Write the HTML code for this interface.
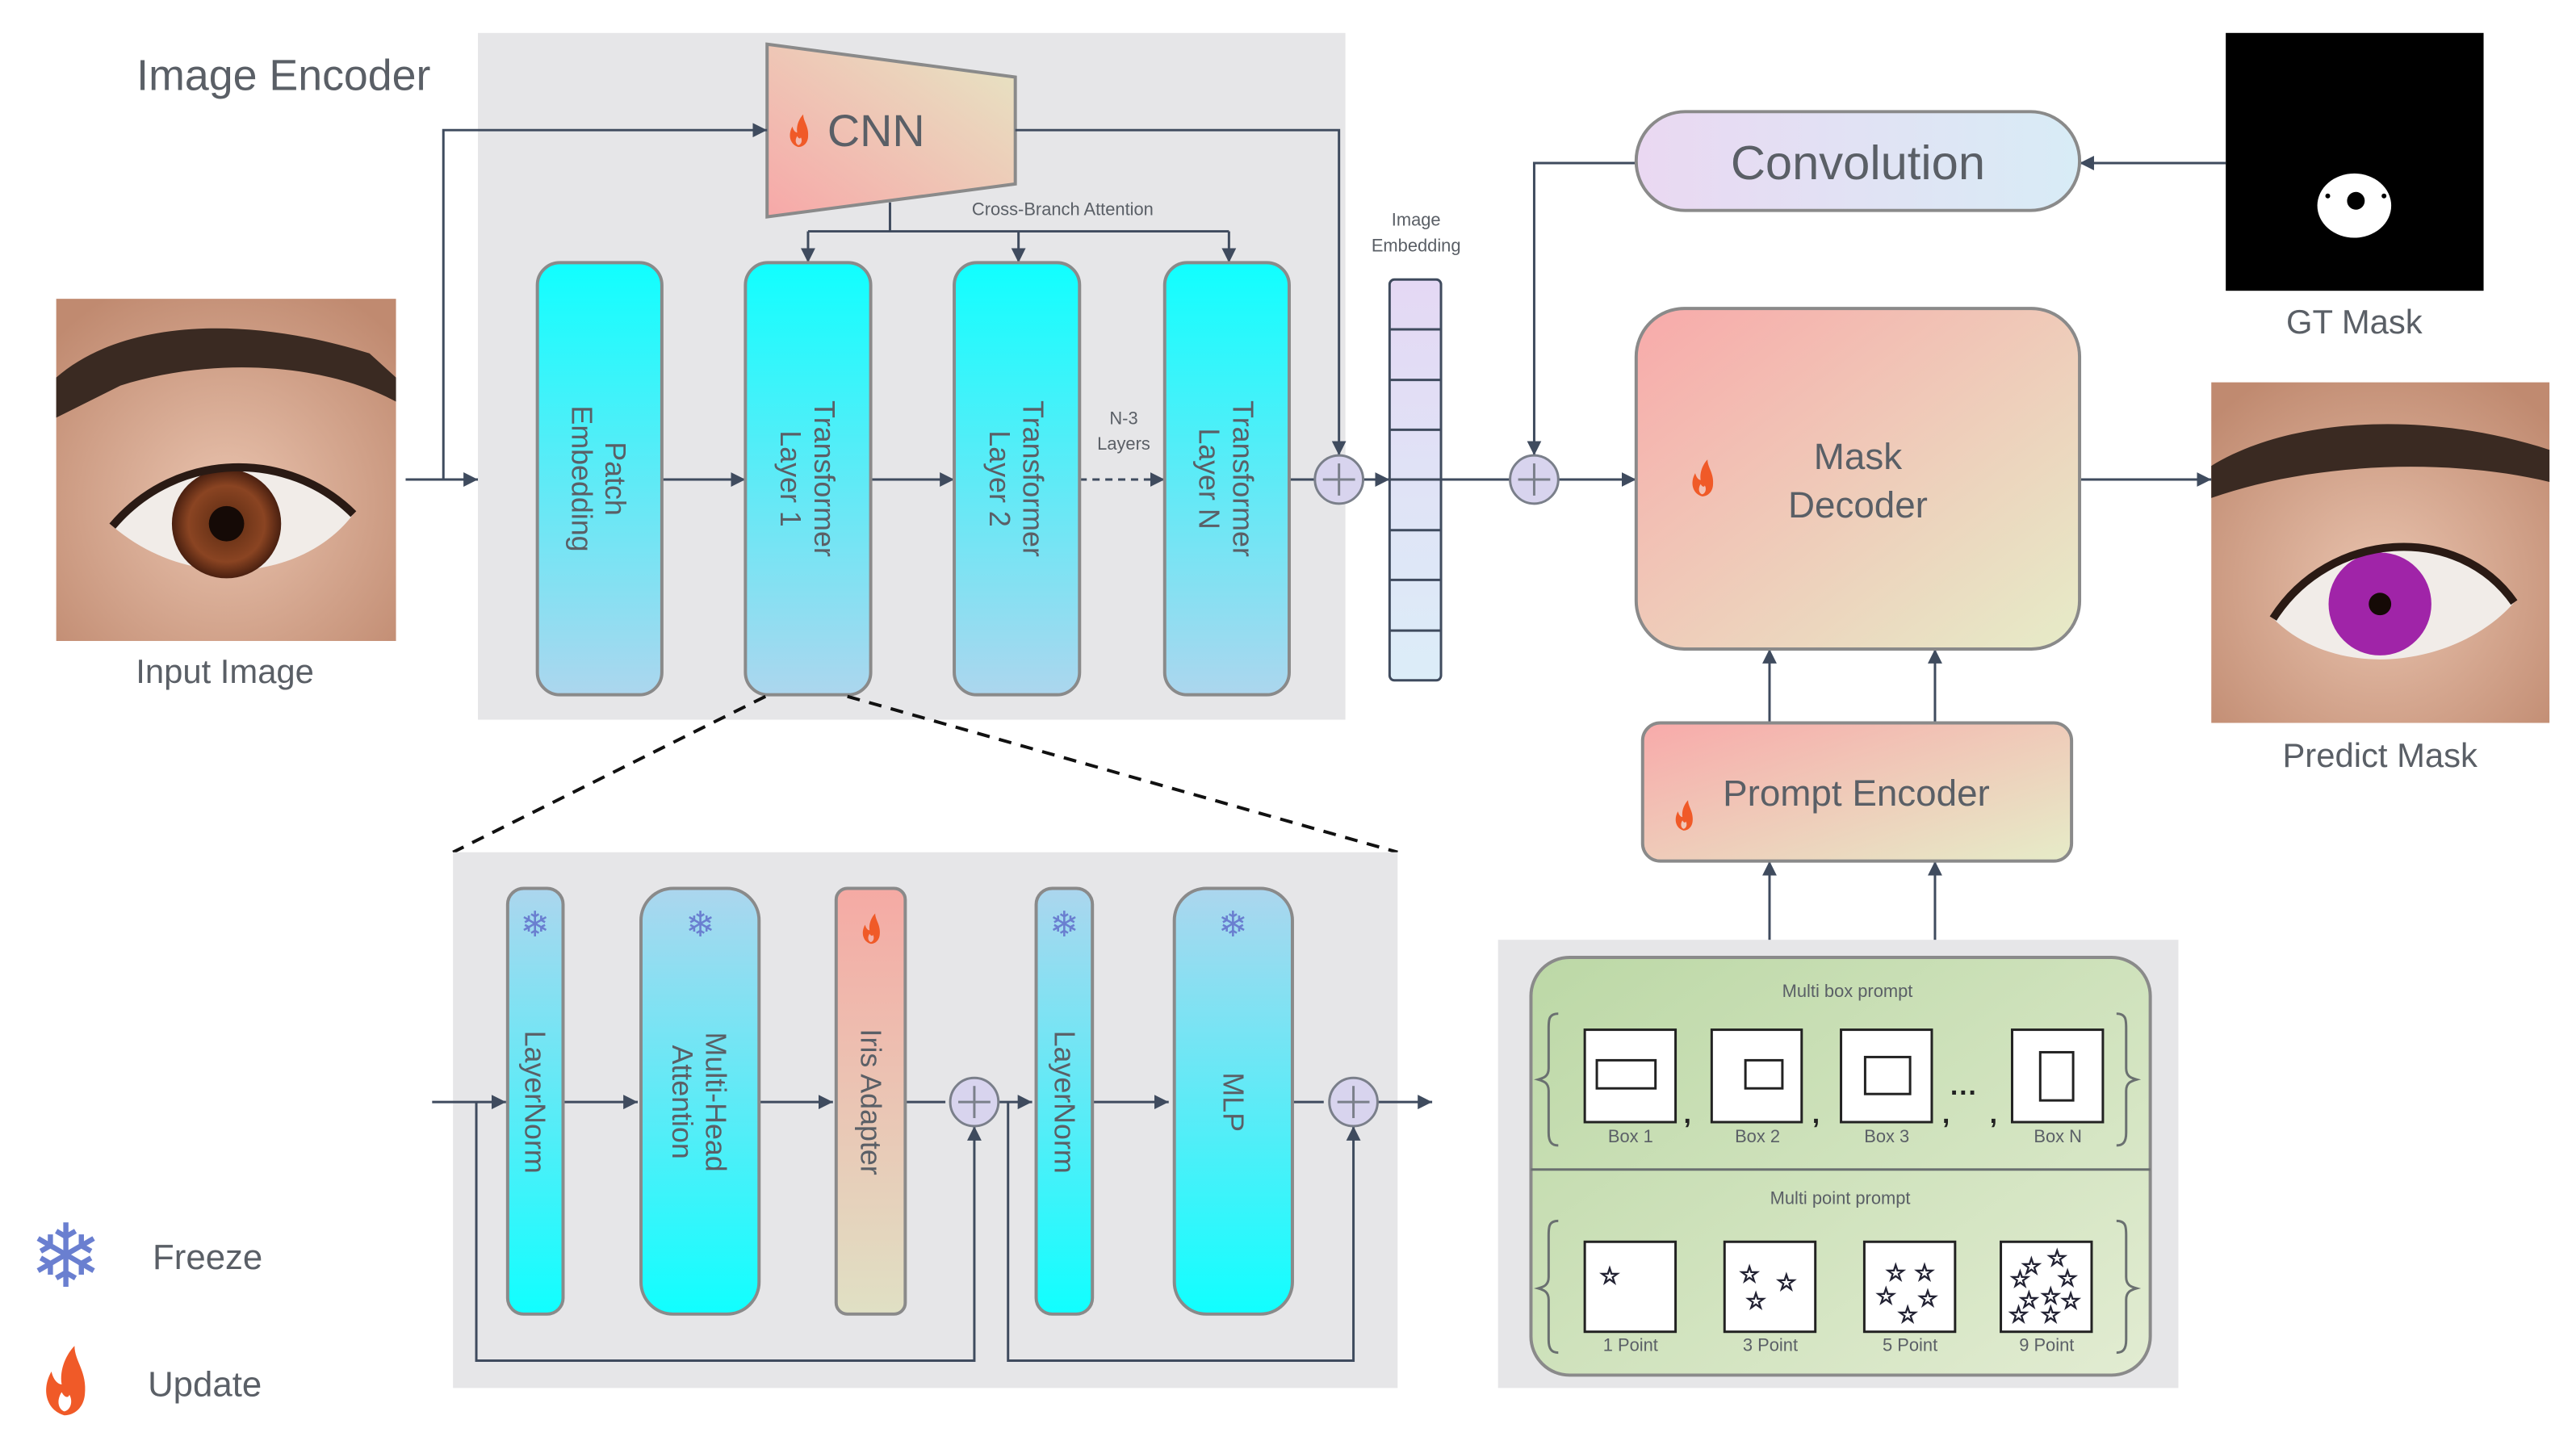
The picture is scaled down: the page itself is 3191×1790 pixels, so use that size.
<!DOCTYPE html>
<html><head><meta charset="utf-8"><style>
html,body{margin:0;padding:0;background:#fff}
svg{display:block}
text{font-family:"Liberation Sans","DejaVu Sans",sans-serif;fill:#5a5f66}
</style></head><body>
<svg width="3191" height="1790" viewBox="0 0 3191 1790" xmlns="http://www.w3.org/2000/svg">
<defs>
<marker id="a" viewBox="0 0 10 10" refX="10" refY="5" markerWidth="18" markerHeight="18" markerUnits="userSpaceOnUse" orient="auto"><path d="M0,0 L10,5 L0,10 z" fill="#3f4b5e"/></marker>
<linearGradient id="cyanDown" x1="0" y1="0" x2="0" y2="1"><stop offset="0" stop-color="#10ffff"/><stop offset="1" stop-color="#acd6ee"/></linearGradient>
<linearGradient id="cyanUp" x1="0" y1="0" x2="0" y2="1"><stop offset="0" stop-color="#acd6ee"/><stop offset="1" stop-color="#10ffff"/></linearGradient>
<linearGradient id="iris" x1="0" y1="0" x2="0" y2="1"><stop offset="0" stop-color="#f5aaa4"/><stop offset="1" stop-color="#e0e0c4"/></linearGradient>
<linearGradient id="warm" x1="0" y1="0" x2="1" y2="1"><stop offset="0" stop-color="#f8aaaa"/><stop offset="1" stop-color="#e6ecc8"/></linearGradient>
<linearGradient id="cnn" x1="0" y1="1" x2="1" y2="0"><stop offset="0" stop-color="#f7a8a8"/><stop offset="1" stop-color="#e6e6c4"/></linearGradient>
<linearGradient id="conv" x1="0" y1="0" x2="1" y2="0"><stop offset="0" stop-color="#ead8f2"/><stop offset="1" stop-color="#d8ecf6"/></linearGradient>
<linearGradient id="emb" x1="0" y1="0" x2="0" y2="1"><stop offset="0" stop-color="#e4d8f4"/><stop offset="1" stop-color="#dcedf8"/></linearGradient>
<linearGradient id="green" x1="0" y1="0" x2="1" y2="1"><stop offset="0" stop-color="#bcd8a6"/><stop offset="1" stop-color="#e2ecd2"/></linearGradient>
<radialGradient id="skin" cx="0.5" cy="0.6" r="0.7"><stop offset="0" stop-color="#e9c3ae"/><stop offset="1" stop-color="#c08a70"/></radialGradient>
<radialGradient id="brown" cx="0.5" cy="0.5" r="0.5"><stop offset="0" stop-color="#5a2a12"/><stop offset="0.7" stop-color="#8a4422"/><stop offset="1" stop-color="#4a2010"/></radialGradient>
<path id="flame" d="M0,0 C-14,-4 -18,-20 -10,-34 C-8,-26 -4,-24 -2,-24 C-4,-36 2,-48 8,-54 C8,-42 18,-34 16,-16 C15,-6 8,0 0,0 Z M0,-3 C-5,-5 -6,-12 -2,-18 C0,-14 3,-13 4,-16 C7,-11 5,-4 0,-3 Z" fill="#f05a28" fill-rule="evenodd"/>
</defs>
<g transform="scale(0.995)">
<rect x="595" y="41" width="1080" height="855" fill="#e6e6e8"/>
<text x="170" y="112" font-size="54">Image Encoder</text>

<g>
<rect x="70" y="372" width="423" height="426" fill="url(#skin)"/>
<path d="M70,470 C150,400 300,390 460,440 L493,470 L493,500 C400,450 260,445 150,480 L70,520 Z" fill="#3a2a22"/>
<path d="M140,655 C220,560 360,560 440,640 C380,720 240,740 140,655 Z" fill="#f1ece8"/>
<circle cx="282" cy="652" r="68" fill="url(#brown)"/>
<circle cx="282" cy="652" r="22" fill="#150a06"/>
<path d="M140,655 C220,560 360,560 440,640" fill="none" stroke="#2a1a14" stroke-width="10"/>
</g>
<text x="280" y="850" font-size="42" text-anchor="middle">Input Image</text>

<polygon points="955,55 1264,96 1264,229 955,270" fill="url(#cnn)" stroke="#8a8a8a" stroke-width="4"/>
<use href="#flame" transform="translate(994,183) scale(0.75)"/>
<text x="1030" y="182" font-size="56">CNN</text>

<g stroke="#3f4b5e" stroke-width="3" fill="none">
<line x1="505" y1="597" x2="595" y2="597" marker-end="url(#a)"/>
<polyline points="552,597 552,162 955,162" marker-end="url(#a)"/>
<polyline points="1264,162 1667,162 1667,567" marker-end="url(#a)"/>
<line x1="1108" y1="252" x2="1108" y2="288"/>
<line x1="1006" y1="288" x2="1530" y2="288"/>
<line x1="1006" y1="288" x2="1006" y2="327" marker-end="url(#a)"/>
<line x1="1268" y1="288" x2="1268" y2="327" marker-end="url(#a)"/>
<line x1="1530" y1="288" x2="1530" y2="327" marker-end="url(#a)"/>
<line x1="824" y1="597" x2="928" y2="597" marker-end="url(#a)"/>
<line x1="1084" y1="597" x2="1188" y2="597" marker-end="url(#a)"/>
<line x1="1344" y1="597" x2="1450" y2="597" stroke-dasharray="9,7" marker-end="url(#a)"/>
<line x1="1605" y1="597" x2="1637" y2="597"/>
<line x1="1697" y1="597" x2="1730" y2="597" marker-end="url(#a)"/>
</g>
<text x="1323" y="268" font-size="22" text-anchor="middle">Cross-Branch Attention</text>
<text x="1399" y="528" font-size="22" text-anchor="middle">N-3</text>
<text x="1399" y="560" font-size="22" text-anchor="middle">Layers</text>

<g stroke="#8a8a8a" stroke-width="4" fill="url(#cyanDown)">
<rect x="669" y="327" width="155" height="538" rx="28"/>
<rect x="928" y="327" width="156" height="538" rx="28"/>
<rect x="1188" y="327" width="156" height="538" rx="28"/>
<rect x="1450" y="327" width="155" height="538" rx="28"/>
</g>
<g font-size="36">
<g transform="translate(746,596) rotate(90)"><text x="0" y="-8" text-anchor="middle">Patch</text><text x="0" y="34" text-anchor="middle">Embedding</text></g>
<g transform="translate(1006,596) rotate(90)"><text x="0" y="-8" text-anchor="middle">Transformer</text><text x="0" y="34" text-anchor="middle">Layer 1</text></g>
<g transform="translate(1266,596) rotate(90)"><text x="0" y="-8" text-anchor="middle">Transformer</text><text x="0" y="34" text-anchor="middle">Layer 2</text></g>
<g transform="translate(1527,596) rotate(90)"><text x="0" y="-8" text-anchor="middle">Transformer</text><text x="0" y="34" text-anchor="middle">Layer N</text></g>
</g>

<g stroke="#7a7f8a" stroke-width="3"><circle cx="1667" cy="597" r="30" fill="#d8d4ee"/><line x1="1647" y1="597" x2="1687" y2="597"/><line x1="1667" y1="577" x2="1667" y2="617"/></g>

<text x="1763" y="281" font-size="22" text-anchor="middle">Image</text>
<text x="1763" y="313" font-size="22" text-anchor="middle">Embedding</text>
<rect x="1730" y="348" width="64" height="499" rx="6" fill="url(#emb)" stroke="#3f4b5e" stroke-width="3"/>
<g stroke="#3f4b5e" stroke-width="3">
<line x1="1730" y1="410" x2="1794" y2="410"/><line x1="1730" y1="473" x2="1794" y2="473"/><line x1="1730" y1="535" x2="1794" y2="535"/><line x1="1730" y1="597" x2="1794" y2="597"/><line x1="1730" y1="660" x2="1794" y2="660"/><line x1="1730" y1="722" x2="1794" y2="722"/><line x1="1730" y1="785" x2="1794" y2="785"/>
</g>

<g stroke="#3f4b5e" stroke-width="3" fill="none">
<line x1="1794" y1="597" x2="1880" y2="597"/>
<line x1="1940" y1="597" x2="2037" y2="597" marker-end="url(#a)"/>
<polyline points="2037,203 1910,203 1910,567" marker-end="url(#a)"/>
<line x1="2771" y1="203" x2="2589" y2="203" marker-end="url(#a)"/>
<line x1="2589" y1="597" x2="2753" y2="597" marker-end="url(#a)"/>
<line x1="2203" y1="900" x2="2203" y2="808" marker-end="url(#a)"/>
<line x1="2409" y1="900" x2="2409" y2="808" marker-end="url(#a)"/>
<line x1="2203" y1="1172" x2="2203" y2="1072" marker-end="url(#a)"/>
<line x1="2409" y1="1172" x2="2409" y2="1072" marker-end="url(#a)"/>
</g>
<g stroke="#7a7f8a" stroke-width="3"><circle cx="1910" cy="597" r="30" fill="#d8d4ee"/><line x1="1890" y1="597" x2="1930" y2="597"/><line x1="1910" y1="577" x2="1910" y2="617"/></g>

<rect x="2037" y="139" width="552" height="123" rx="61" fill="url(#conv)" stroke="#8a8a8a" stroke-width="4"/>
<text x="2313" y="223" font-size="60" text-anchor="middle">Convolution</text>

<rect x="2771" y="41" width="321" height="321" fill="#000"/>
<ellipse cx="2931" cy="256" rx="46" ry="40" fill="#fff"/>
<circle cx="2933" cy="250" r="11" fill="#000"/>
<circle cx="2898" cy="244" r="3" fill="#000"/><circle cx="2968" cy="244" r="3" fill="#000"/>
<text x="2931" y="415" font-size="42" text-anchor="middle">GT Mask</text>

<rect x="2037" y="384" width="552" height="424" rx="60" fill="url(#warm)" stroke="#8a8a8a" stroke-width="4"/>
<use href="#flame" transform="translate(2119,618) scale(0.85)"/>
<text x="2313" y="584" font-size="46" text-anchor="middle">Mask</text>
<text x="2313" y="644" font-size="46" text-anchor="middle">Decoder</text>

<g>
<rect x="2753" y="476" width="421" height="424" fill="url(#skin)"/>
<path d="M2753,580 C2850,520 3020,510 3174,560 L3174,600 C3050,570 2880,575 2753,620 Z" fill="#3a2a22"/>
<path d="M2830,770 C2900,660 3060,650 3130,750 C3060,830 2910,850 2830,770 Z" fill="#f1ece8"/>
<circle cx="2963" cy="752" r="64" fill="#a024a8"/>
<circle cx="2963" cy="752" r="14" fill="#150a06"/>
<path d="M2830,770 C2900,660 3060,650 3130,750" fill="none" stroke="#2a1a14" stroke-width="10"/>
</g>
<text x="2963" y="955" font-size="42" text-anchor="middle">Predict Mask</text>

<rect x="2045" y="900" width="534" height="172" rx="22" fill="url(#warm)" stroke="#8a8a8a" stroke-width="4"/>
<use href="#flame" transform="translate(2096,1034) scale(0.7)"/>
<text x="2311" y="1003" font-size="46" text-anchor="middle">Prompt Encoder</text>

<rect x="1865" y="1170" width="847" height="558" fill="#e6e6e8"/>
<rect x="1906" y="1192" width="771" height="520" rx="48" fill="url(#green)" stroke="#8a8a8a" stroke-width="4"/>
<line x1="1906" y1="1456" x2="2677" y2="1456" stroke="#6a7070" stroke-width="3"/>
<text x="2300" y="1241" font-size="22" text-anchor="middle">Multi box prompt</text>
<text x="2291" y="1499" font-size="22" text-anchor="middle">Multi point prompt</text>
<g fill="none" stroke="#6a7070" stroke-width="3">
<path d="M1940,1262 C1928,1262 1928,1270 1928,1280 L1928,1330 C1928,1340 1922,1342 1915,1344 C1922,1346 1928,1348 1928,1358 L1928,1410 C1928,1422 1932,1426 1940,1426"/>
<path d="M2635,1262 C2647,1262 2647,1270 2647,1280 L2647,1330 C2647,1340 2653,1342 2660,1344 C2653,1346 2647,1348 2647,1358 L2647,1410 C2647,1422 2643,1426 2635,1426"/>
<path d="M1940,1520 C1928,1520 1928,1528 1928,1538 L1928,1590 C1928,1600 1922,1602 1915,1604 C1922,1606 1928,1608 1928,1618 L1928,1668 C1928,1680 1932,1684 1940,1684"/>
<path d="M2635,1520 C2647,1520 2647,1528 2647,1538 L2647,1590 C2647,1600 2653,1602 2660,1604 C2653,1606 2647,1608 2647,1618 L2647,1668 C2647,1680 2643,1684 2635,1684"/>
</g>
<g fill="#fff" stroke="#222" stroke-width="3">
<rect x="1973" y="1282" width="113" height="115"/><rect x="1988" y="1320" width="73" height="35"/>
<rect x="2131" y="1282" width="112" height="115"/><rect x="2173" y="1320" width="46" height="35"/>
<rect x="2292" y="1282" width="113" height="115"/><rect x="2322" y="1316" width="56" height="46"/>
<rect x="2505" y="1282" width="113" height="115"/><rect x="2540" y="1310" width="41" height="60"/>
<rect x="1973" y="1546" width="113" height="112"/>
<rect x="2147" y="1546" width="113" height="112"/>
<rect x="2321" y="1546" width="113" height="112"/>
<rect x="2491" y="1546" width="113" height="112"/>
</g>
<g font-size="34" font-weight="bold">
<text x="2096" y="1398" style="fill:#222">,</text><text x="2256" y="1398" style="fill:#222">,</text>
<text x="2418" y="1398" style="fill:#222">,</text><text x="2477" y="1398" style="fill:#222">,</text>
<text x="2428" y="1372" style="fill:#222">···</text>
</g>
<g font-size="22" text-anchor="middle">
<text x="2030" y="1422">Box 1</text><text x="2188" y="1422">Box 2</text><text x="2349" y="1422">Box 3</text><text x="2562" y="1422">Box N</text>
<text x="2030" y="1682">1 Point</text><text x="2204" y="1682">3 Point</text><text x="2378" y="1682">5 Point</text><text x="2548" y="1682">9 Point</text>
</g>
<g font-size="28" text-anchor="middle" stroke="#223" stroke-width="1.5">
<text x="2004" y="1598" style="fill:#223">☆</text>
<text x="2178" y="1596" style="fill:#223">☆</text><text x="2224" y="1606" style="fill:#223">☆</text><text x="2186" y="1629" style="fill:#223">☆</text>
<text x="2360" y="1594" style="fill:#223">☆</text><text x="2396" y="1594" style="fill:#223">☆</text><text x="2348" y="1623" style="fill:#223">☆</text><text x="2400" y="1626" style="fill:#223">☆</text><text x="2375" y="1646" style="fill:#223">☆</text>
<text x="2529" y="1586" style="fill:#223">☆</text><text x="2561" y="1576" style="fill:#223">☆</text><text x="2515" y="1602" style="fill:#223">☆</text><text x="2574" y="1601" style="fill:#223">☆</text><text x="2526" y="1628" style="fill:#223">☆</text><text x="2553" y="1623" style="fill:#223">☆</text><text x="2578" y="1629" style="fill:#223">☆</text><text x="2513" y="1646" style="fill:#223">☆</text><text x="2553" y="1646" style="fill:#223">☆</text>
</g>

<g stroke="#111" stroke-width="4" stroke-dasharray="16,12" fill="none">
<line x1="953" y1="867" x2="564" y2="1061"/>
<line x1="1055" y1="867" x2="1740" y2="1061"/>
</g>

<rect x="564" y="1061" width="1176" height="667" fill="#e6e6e8"/>
<g stroke="#3f4b5e" stroke-width="3" fill="none">
<line x1="538" y1="1372" x2="630" y2="1372" marker-end="url(#a)"/>
<line x1="699" y1="1372" x2="794" y2="1372" marker-end="url(#a)"/>
<line x1="941" y1="1372" x2="1037" y2="1372" marker-end="url(#a)"/>
<line x1="1121" y1="1372" x2="1177" y2="1372"/>
<line x1="1237" y1="1372" x2="1285" y2="1372" marker-end="url(#a)"/>
<line x1="1353" y1="1372" x2="1455" y2="1372" marker-end="url(#a)"/>
<line x1="1601" y1="1372" x2="1648" y2="1372"/>
<line x1="1708" y1="1372" x2="1783" y2="1372" marker-end="url(#a)"/>
<polyline points="593,1372 593,1694 1213,1694 1213,1402" marker-end="url(#a)"/>
<polyline points="1255,1372 1255,1694 1685,1694 1685,1402" marker-end="url(#a)"/>
</g>
<g stroke="#8a8a8a" stroke-width="4">
<rect x="632" y="1106" width="69" height="530" rx="20" fill="url(#cyanUp)"/>
<rect x="798" y="1106" width="147" height="530" rx="40" fill="url(#cyanUp)"/>
<rect x="1041" y="1106" width="86" height="530" rx="14" fill="url(#iris)"/>
<rect x="1290" y="1106" width="70" height="530" rx="20" fill="url(#cyanUp)"/>
<rect x="1462" y="1106" width="147" height="530" rx="40" fill="url(#cyanUp)"/>
</g>
<g stroke="#7a7f8a" stroke-width="3"><circle cx="1213" cy="1372" r="30" fill="#d8d4ee"/><line x1="1193" y1="1372" x2="1233" y2="1372"/><line x1="1213" y1="1352" x2="1213" y2="1392"/>
<circle cx="1685" cy="1372" r="30" fill="#d8d4ee"/><line x1="1665" y1="1372" x2="1705" y2="1372"/><line x1="1685" y1="1352" x2="1685" y2="1392"/></g>
<g font-size="44" text-anchor="middle">
<text x="666" y="1166" style="fill:#6a7fd0">❄</text>
<text x="872" y="1166" style="fill:#6a7fd0">❄</text>
<text x="1325" y="1166" style="fill:#6a7fd0">❄</text>
<text x="1535" y="1166" style="fill:#6a7fd0">❄</text>
</g>
<use href="#flame" transform="translate(1084,1175) scale(0.7)"/>
<g font-size="36">
<g transform="translate(666,1372) rotate(90)"><text x="0" y="12" text-anchor="middle">LayerNorm</text></g>
<g transform="translate(871,1372) rotate(90)"><text x="0" y="-8" text-anchor="middle">Multi-Head</text><text x="0" y="34" text-anchor="middle">Attention</text></g>
<g transform="translate(1084,1372) rotate(90)"><text x="0" y="12" text-anchor="middle">Iris Adapter</text></g>
<g transform="translate(1325,1372) rotate(90)"><text x="0" y="12" text-anchor="middle">LayerNorm</text></g>
<g transform="translate(1535,1372) rotate(90)"><text x="0" y="12" text-anchor="middle">MLP</text></g>
</g>

<text x="82" y="1602" font-size="110" text-anchor="middle" style="fill:#6a7fd0">❄</text>
<text x="190" y="1580" font-size="44">Freeze</text>
<use href="#flame" transform="translate(80,1762) scale(1.6)"/>
<text x="184" y="1738" font-size="44">Update</text>
</g>
</svg>
</body></html>
